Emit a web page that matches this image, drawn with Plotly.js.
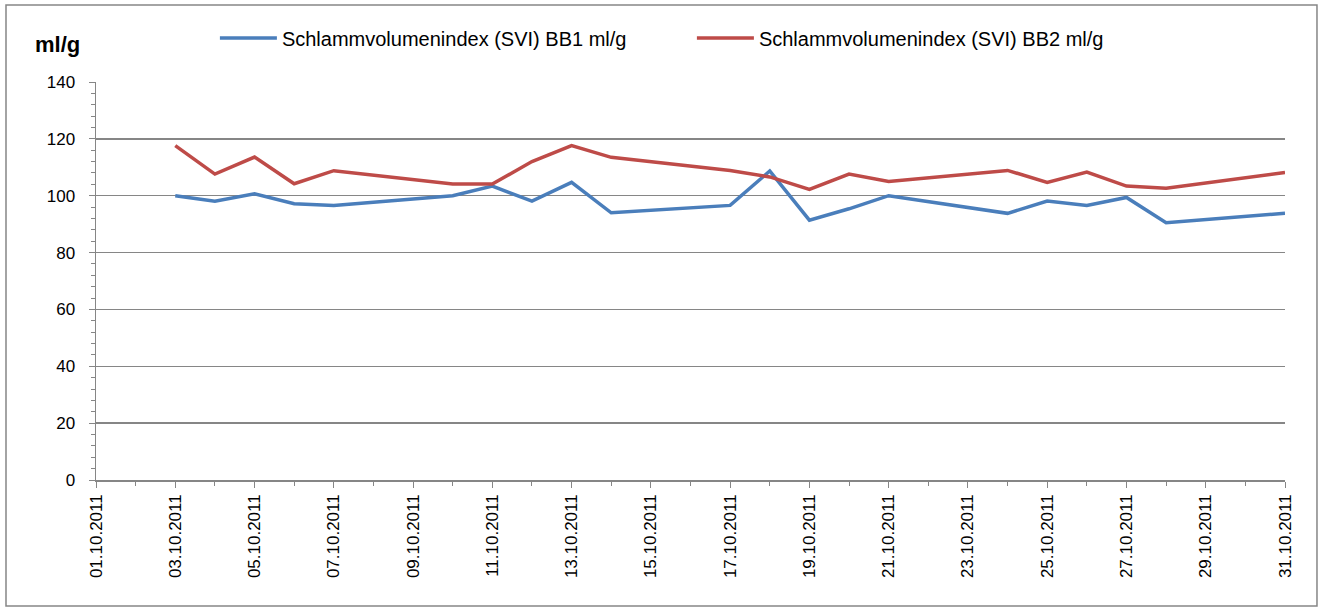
<!DOCTYPE html>
<html>
<head>
<meta charset="utf-8">
<script src="https://cdn.plot.ly/plotly-3.0.1.min.js"></script>
<style>html,body{margin:0;padding:0;background:#fff;}#chart{width:1325px;height:614px;}</style>
</head>
<body>
<div id="chart"></div>
<script>
const dates = ['2011-10-03','2011-10-04','2011-10-05','2011-10-06','2011-10-07','2011-10-10','2011-10-11','2011-10-12','2011-10-13','2011-10-14','2011-10-17','2011-10-18','2011-10-19','2011-10-20','2011-10-21','2011-10-24','2011-10-25','2011-10-26','2011-10-27','2011-10-28','2011-10-31'];
const svi_bb1 = [100, 98.1, 100.7, 97.2, 96.6, 100, 103.4, 98.1, 104.7, 94.0, 96.6, 108.7, 91.4, 95.4, 100, 93.8, 98.1, 96.6, 99.4, 90.5, 93.8];
const svi_bb2 = [117.6, 107.6, 113.6, 104.2, 108.8, 104.1, 104.1, 112.0, 117.6, 113.5, 108.9, 106.6, 102.2, 107.6, 105.0, 108.9, 104.7, 108.3, 103.4, 102.6, 108.2];
const seriesNames = ['Schlammvolumenindex (SVI) BB1 ml/g', 'Schlammvolumenindex (SVI) BB2 ml/g'];
const yUnit = 'ml/g';

const FONT = 'Liberation Sans, Arial, sans-serif';
const GRAY = '#868686';

const traces = [
  {x: dates, y: svi_bb1, type: 'scatter', mode: 'lines', name: seriesNames[0],
   line: {color: '#4a7ebb', width: 3.5}},
  {x: dates, y: svi_bb2, type: 'scatter', mode: 'lines', name: seriesNames[1],
   line: {color: '#be4b48', width: 3.5}}
];

const layout = {
  width: 1325, height: 614,
  margin: {l: 96, r: 40, t: 82, b: 134},
  paper_bgcolor: '#fff', plot_bgcolor: '#fff',
  font: {family: FONT, size: 17, color: '#000'},
  showlegend: true,
  legend: {orientation: 'h', x: 0.1, xanchor: 'left', y: 1.1106, yanchor: 'middle',
    font: {family: FONT, size: 20, color: '#000'}, itemwidth: 57, entrywidth: 405, entrywidthmode: 'pixels',
    bgcolor: 'rgba(0,0,0,0)'},
  xaxis: {
    type: 'date', range: ['2011-10-01', '2011-10-31'],
    tick0: '2011-10-01', dtick: 172800000, tickformat: '%d.%m.%Y', tickangle: -90,
    ticks: 'outside', ticklen: 6, tickcolor: GRAY, tickwidth: 1,
    minor: {dtick: 86400000, ticks: 'outside', ticklen: 4, tickcolor: GRAY, showgrid: false},
    showgrid: false, showline: true, linecolor: GRAY, linewidth: 1.5, zeroline: false,
    tickfont: {family: FONT, size: 17, color: '#000'}, fixedrange: true
  },
  yaxis: {
    range: [0, 140], dtick: 20, tick0: 0,
    ticks: 'outside', ticklen: 6, tickcolor: GRAY, tickwidth: 1, ticklabelstandoff: 10,
    minor: {dtick: 4, ticks: 'outside', ticklen: 4, tickcolor: GRAY, showgrid: false},
    showgrid: true, gridcolor: GRAY, gridwidth: 1.5,
    showline: true, linecolor: GRAY, linewidth: 1.5, zeroline: false,
    tickfont: {family: FONT, size: 17, color: '#000'}, fixedrange: true
  },
  annotations: [
    {text: '<b>' + yUnit + '</b>', xref: 'paper', yref: 'paper', x: -0.0328, y: 1.093,
     xanchor: 'center', yanchor: 'middle', showarrow: false, font: {family: FONT, size: 22, color: '#000'}}
  ],
  shapes: [
    {type: 'rect', xref: 'paper', yref: 'paper', x0: -0.0757, x1: 1.0269, y0: -0.3166, y1: 1.1935,
     line: {color: GRAY, width: 1.5}, fillcolor: 'rgba(0,0,0,0)', layer: 'below'}
  ]
};

Plotly.newPlot('chart', traces, layout, {staticPlot: true, displayModeBar: false});
</script>
</body>
</html>
